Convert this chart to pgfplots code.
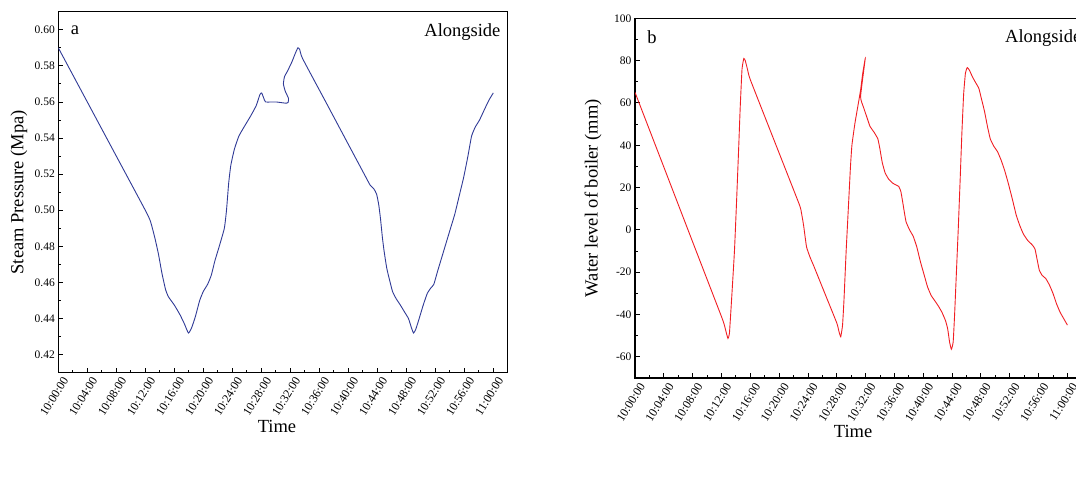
\documentclass[border=0pt]{standalone}
\usepackage{fontspec}
\setmainfont{Liberation Serif}
\usepackage{pgfplots}
\pgfplotsset{compat=1.18}
\definecolor{pblue}{RGB}{48,58,150}
\definecolor{pred}{RGB}{240,30,35}
\pgfplotsset{
  common/.style={
    scale only axis,
    tick pos=left,
    tick align=inside,
    major tick length=5pt,
    minor tick length=3pt,
    axis line style={line width=1.1pt},
    every tick/.style={line width=0.9pt,black},
    /pgf/number format/assume math mode=true,
    xmin=0, xmax=62,
    xtick={0,4,...,60},
    minor x tick num=1,
    xticklabels={10:00:00,10:04:00,10:08:00,10:12:00,10:16:00,10:20:00,10:24:00,10:28:00,10:32:00,10:36:00,10:40:00,10:44:00,10:48:00,10:52:00,10:56:00,11:00:00},
    x tick label style={font=\fontsize{12}{14}\selectfont, xshift=9pt, yshift=-3pt, rotate=58, anchor=east},
    y tick label style={font=\fontsize{11.5}{13}\selectfont},
    label style={font=\fontsize{18.5}{21}\selectfont},
    ylabel style={anchor=center, rotate=0},
    xlabel style={anchor=center},
  }
}
\begin{document}
\begin{tikzpicture}
\path[use as bounding box] (0,0) rectangle (1076pt,483pt);
% ---- panel (a)
\begin{axis}[common,
  at={(58.3pt,110.3pt)}, anchor=south west,
  width=449.5pt, height=361pt,
  ymin=0.41, ymax=0.61,
  ytick={0.42,0.44,...,0.601},
  minor y tick num=1,
  yticklabel style={/pgf/number format/.cd, fixed, fixed zerofill, precision=2},
  xlabel={Time}, ylabel={Steam Pressure (Mpa)},
  xlabel style={at={(axis description cs:0.4865,-0.1496)}},
  ylabel style={at={(axis description cs:-0.0874,0.5)}},
]
\addplot[pblue, line width=0.9pt, smooth, tension=0.3] coordinates {
(0,0.590) (4,0.560) (8,0.530) (12.0,0.500) (12.7,0.494) (13.3,0.485) (13.8,0.476)
(14.3,0.465) (14.8,0.456) (15.2,0.452) (16.0,0.4475) (16.8,0.442) (17.4,0.437)
(17.95,0.432) (18.4,0.435) (18.9,0.441) (19.5,0.450) (20.0,0.455) (20.6,0.459)
(21.1,0.464) (21.6,0.472) (22.2,0.480) (22.9,0.490) (23.2,0.500) (23.5,0.515)
(23.8,0.525) (24.3,0.534) (24.9,0.541) (25.6,0.546) (26.5,0.552) (27.3,0.558)
(27.8,0.564) (28.05,0.565) (28.35,0.562) (28.6,0.5600) (30.0,0.5600) (31.0,0.5595)
(31.5,0.5593) (31.7,0.5598) (31.75,0.562) (31.3,0.566) (31.05,0.570) (31.2,0.574)
(31.6,0.577) (32.2,0.582) (32.7,0.587) (33.05,0.590) (33.3,0.589) (33.7,0.584)
(36.8,0.5607) (39.9,0.5373) (42.2,0.520)
(43.0,0.514) (43.5,0.512) (43.9,0.509) (44.2,0.503) (44.45,0.495) (44.7,0.485)
(44.95,0.477) (45.3,0.468) (45.65,0.462) (46.1,0.455) (46.6,0.451) (47.1,0.448)
(47.7,0.444) (48.3,0.440) (48.7,0.435) (49.0,0.432) (49.3,0.434) (49.7,0.439)
(50.3,0.447) (50.9,0.454) (51.4,0.457) (51.8,0.459) (52.3,0.466) (52.9,0.474)
(53.5,0.482) (54.1,0.490) (54.7,0.498) (55.3,0.508) (55.9,0.518) (56.5,0.530)
(57.0,0.541) (57.5,0.546) (58.1,0.550) (58.8,0.556) (59.4,0.561) (60.0,0.565)
};
\node[font=\fontsize{18.5}{21}\selectfont, anchor=center] at (axis description cs:0.037,0.948) {a};
\node[font=\fontsize{18.5}{21}\selectfont, anchor=east] at (axis description cs:0.9915,0.9446) {Alongside};
\node[font=\fontsize{20}{23}\selectfont, anchor=center] at (axis description cs:0.484,-0.264) {(a)};
\end{axis}
% ---- panel (b)
\begin{axis}[common,
  at={(635pt,105pt)}, anchor=south west,
  width=446.8pt, height=359.7pt,
  ymin=-70, ymax=100,
  ytick={-60,-40,...,100},
  minor y tick num=1,
  xlabel={Time}, ylabel={Water level of boiler (mm)},
  xlabel style={at={(axis description cs:0.488,-0.1496)}},
  ylabel style={at={(axis description cs:-0.094,0.5)}},
]
\addplot[pred, line width=0.9pt, smooth, tension=0.25] coordinates {
(0,65) (4,29.7) (8,-5.7) (12.0,-41) (12.4,-45) (12.7,-49) (12.9,-51.3) (13.1,-49) (13.4,-33) (13.8,-10)
(14.1,14) (14.4,40) (14.6,58) (14.85,76) (15.1,81) (15.3,80) (15.6,76) (16.0,71)
(19.4,41.5) (22.8,12) (23.1,8) (23.4,2) (23.8,-8) (24.3,-13) (24.8,-17) (26.4,-30.5) (28.0,-44) (28.3,-48)
(28.55,-50.5) (28.8,-45) (29.0,-33) (29.3,-10) (29.6,10) (29.9,30) (30.1,40)
(30.5,50) (30.9,58) (31.3,66) (31.6,74) (31.95,81) (31.3,63)
(31.7,58) (32.2,53) (32.6,49) (33.2,46) (33.7,43) (34.0,38) (34.3,32) (34.7,27)
(35.2,24) (35.8,22) (36.6,20.5) (36.9,18) (37.2,12) (37.6,4) (38.1,0) (38.6,-3)
(39.1,-8) (39.6,-15) (40.1,-21) (40.6,-27) (41.1,-31) (41.6,-33.5) (42.1,-36)
(42.6,-39) (43.1,-43) (43.4,-47) (43.65,-53) (43.9,-56.4) (44.15,-53) (44.35,-40)
(44.6,-20) (44.85,0) (45.1,22) (45.35,45) (45.6,64) (45.85,74) (46.1,76.7)
(46.4,75.5) (46.8,72.5) (47.2,70) (47.7,67) (48.0,63) (48.5,56) (48.9,49) (49.3,43)
(49.8,39.5) (50.3,37) (50.8,33) (51.3,28) (51.8,22) (52.4,14) (52.9,7) (53.4,2)
(53.9,-2) (54.5,-5) (55.1,-7) (55.5,-9) (55.8,-14) (56.1,-19) (56.5,-21.5)
(57.0,-23) (57.5,-26) (58.0,-30) (58.5,-35) (59.0,-39) (59.5,-42) (60.0,-45)
};
\node[font=\fontsize{18.5}{21}\selectfont, anchor=center] at (axis description cs:0.038,0.948) {b};
\node[font=\fontsize{18.5}{21}\selectfont, anchor=west] at (axis description cs:0.8207,0.945) {Alongside};
\node[font=\fontsize{20}{23}\selectfont, anchor=center] at (axis description cs:0.481,-0.25) {(b)};
\end{axis}
\end{tikzpicture}
\end{document}
